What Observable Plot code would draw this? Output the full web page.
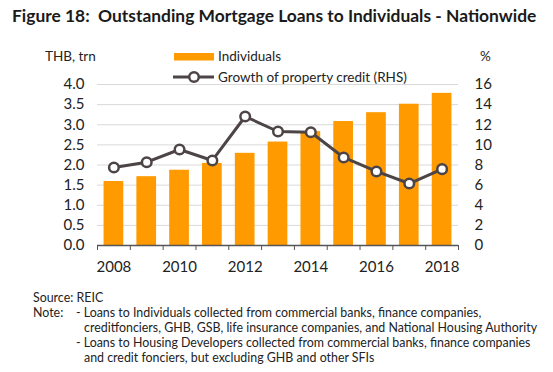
<!DOCTYPE html>
<html><head><meta charset="utf-8">
<script src="https://cdn.jsdelivr.net/npm/d3@7"></script>
<script src="https://cdn.jsdelivr.net/npm/@observablehq/plot@0.6"></script>
<style>
body{margin:0;background:#fff;font-family:Lato,"Open Sans",sans-serif;}
#wrap{position:relative;width:553px;height:372px;overflow:hidden;background:#fff;}
#title{position:absolute;left:12px;top:5px;font-weight:bold;font-size:17.4px;color:#1a1a1a;white-space:nowrap;}
#chart{position:absolute;left:0;top:40px;}
.unit{position:absolute;font-size:13.5px;color:#222;}
#legend{position:absolute;left:0;top:0;}
.note{position:absolute;font-size:12.4px;color:#222;white-space:nowrap;line-height:15px;}
</style></head>
<body><div id="wrap">
<div id="title">Figure 18:&nbsp; Outstanding Mortgage Loans to Individuals - Nationwide</div>
<div class="unit" style="left:45px;top:48px;">THB, trn</div>
<div class="unit" style="left:480px;top:48px;">%</div>
<div id="chart"></div>
<svg id="legend" width="553" height="100" style="position:absolute;left:0;top:0"></svg>
<div id="notes"></div>
</div>
<script>
const years = [2008, 2009, 2010, 2011, 2012, 2013, 2014, 2015, 2016, 2017, 2018];
const individuals = [1.59, 1.71, 1.87, 2.04, 2.29, 2.57, 2.83, 3.08, 3.30, 3.51, 3.78];
const growth = [7.75, 8.28, 9.54, 8.45, 12.82, 11.33, 11.26, 8.75, 7.36, 6.16, 7.59];
const leftTicks = [0, 0.5, 1, 1.5, 2, 2.5, 3, 3.5, 4];
const rightTicks = [0, 2, 4, 6, 8, 10, 12, 14, 16];
const xLabels = [2008, 2010, 2012, 2014, 2016, 2018];
const seriesNames = ["Individuals", "Growth of property credit (RHS)"];
// [text, left, top]
const noteLines = [
  ["Source: REIC", 33, 290],
  ["Note:", 33, 305],
  ["- Loans to Individuals collected from commercial banks, finance companies,", 76, 305],
  ["creditfonciers, GHB, GSB, life insurance companies, and National Housing Authority", 84, 320],
  ["- Loans to Housing Developers collected from commercial banks, finance companies", 76, 335],
  ["and credit fonciers, but excluding GHB and other SFIs", 84, 350]
];

const barColor = "#FF9A00";
const lineColor = "#4D4446";
const ratio = 4 / 16;

const data = years.map((y, i) => ({year: y, value: individuals[i], growth: growth[i]}));
const boundaries = years.map(y => y - 0.5).concat([years[years.length - 1] + 0.5]);

const chart = Plot.plot({
  width: 553,
  height: 250,
  marginTop: 44,
  marginBottom: 45,
  marginLeft: 97,
  marginRight: 95,
  style: {fontFamily: "Lato, 'Open Sans', sans-serif", fontSize: "15px", color: "#222", background: "transparent"},
  x: {domain: [2007.5, 2018.5], axis: null},
  y: {domain: [0, 4], axis: null},
  marks: [
    Plot.gridY(leftTicks.slice(1), {stroke: "#d9d9d9", strokeOpacity: 1, strokeWidth: 1}),
    Plot.rectY(data, {x1: d => d.year - 0.3, x2: d => d.year + 0.3, y1: 0, y2: "value", fill: barColor}),
    Plot.ruleY([0], {stroke: "#555", strokeWidth: 1.3}),
    Plot.axisX(boundaries, {tickSize: 5, tickFormat: () => "", stroke: "#555", label: null}),
    Plot.axisX(xLabels, {tickSize: 0, tickPadding: 16, tickFormat: d => String(d), fontSize: 15, label: null}),
    Plot.axisY(leftTicks, {anchor: "left", tickSize: 0, tickPadding: 13, tickFormat: d3.format(".1f"), fontSize: 15, label: null}),
    Plot.axisY(rightTicks.map(d => d * ratio), {anchor: "right", tickSize: 0, tickPadding: 16, tickFormat: d => String(Math.round(d / ratio)), fontSize: 15, label: null}),
    Plot.line(data, {x: "year", y: d => d.growth * ratio, stroke: lineColor, strokeWidth: 3}),
    Plot.dot(data, {x: "year", y: d => d.growth * ratio, r: 4.8, fill: "white", stroke: lineColor, strokeWidth: 2.5})
  ]
});
document.getElementById("chart").appendChild(chart);

// legend
const lg = d3.select("#legend");
lg.append("rect").attr("x", 174).attr("y", 53).attr("width", 40).attr("height", 7.5).attr("fill", barColor);
lg.append("text").attr("x", 218).attr("y", 56.5).attr("dy", "0.35em").attr("font-size", 13.5).attr("fill", "#222").attr("font-family", "Lato, 'Open Sans', sans-serif").text(seriesNames[0]);
lg.append("line").attr("x1", 173).attr("x2", 214).attr("y1", 77).attr("y2", 77).attr("stroke", lineColor).attr("stroke-width", 3);
lg.append("circle").attr("cx", 194).attr("cy", 77).attr("r", 4.8).attr("fill", "white").attr("stroke", lineColor).attr("stroke-width", 2.5);
lg.append("text").attr("x", 218).attr("y", 77).attr("dy", "0.35em").attr("font-size", 13.5).attr("fill", "#222").attr("font-family", "Lato, 'Open Sans', sans-serif").text(seriesNames[1]);

// notes
const notes = d3.select("#notes");
noteLines.forEach(([t, left, top]) => {
  notes.append("div").attr("class", "note").style("left", left + "px").style("top", top + "px").text(t);
});
</script>
</body></html>
